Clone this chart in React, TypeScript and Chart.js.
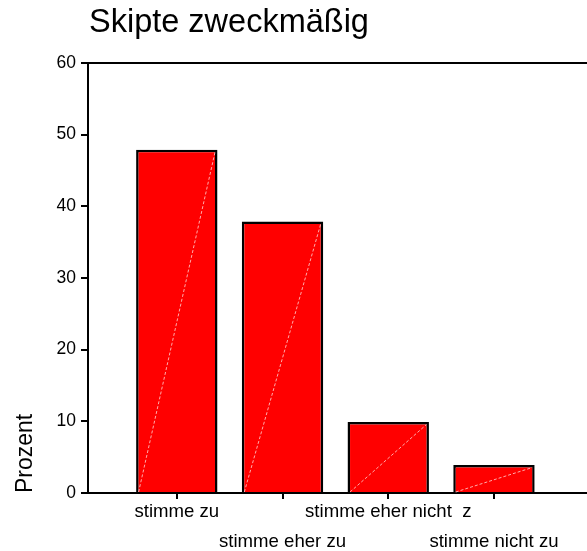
import React, { useEffect, useRef } from "react";
import { Chart, registerables } from "chart.js";

Chart.register(...registerables);

const chartTitle = "Skipte zweckmäßig";
const categories = ["stimme zu", "stimme eher zu", "stimme eher nicht  z", "stimme nicht zu"];
const percentValues = [47.9, 37.9, 9.9, 3.9];
const yTickValues = [0, 10, 20, 30, 40, 50, 60];
const yAxisTitle = "Prozent";

const FONT = "'Liberation Sans', Arial, sans-serif";

export default function App() {
  const ref = useRef<HTMLCanvasElement | null>(null);

  useEffect(() => {
    if (!ref.current) return;
    document.body.style.margin = "0";

    const framePlugin = {
      id: "frame",
      afterDatasetsDraw(chart: any) {
        const ctx = chart.ctx;
        const a = chart.chartArea;
        const meta = chart.getDatasetMeta(0);
        ctx.save();
        ctx.strokeStyle = "rgba(255,190,190,0.9)";
        ctx.lineWidth = 1;
        ctx.setLineDash([3, 2]);
        meta.data.forEach((bar: any) => {
          const p = bar.getProps(["x", "y", "base", "width"], true);
          const l = p.x - p.width / 2 + 2.5;
          const r = p.x + p.width / 2 - 2.5;
          ctx.beginPath();
          ctx.moveTo(l, p.base);
          ctx.lineTo(r, p.y + 2.5);
          ctx.stroke();
        });
        ctx.restore();
        ctx.save();
        ctx.strokeStyle = "#000";
        ctx.lineWidth = 2;
        ctx.beginPath();
        ctx.moveTo(a.left - 1, a.top);
        ctx.lineTo(a.right, a.top);
        ctx.stroke();
        ctx.fillStyle = "#000";
        ctx.font = `32.5px ${FONT}`;
        ctx.textAlign = "left";
        ctx.textBaseline = "alphabetic";
        ctx.fillText(chartTitle, a.left + 1, 32);
        ctx.restore();
      },
    };

    const chart = new Chart(ref.current, {
      type: "bar",
      data: {
        datasets: [
          {
            data: percentValues.map((v, i) => ({ x: i, y: v })),
            backgroundColor: "#ff0000",
            borderColor: "#000000",
            borderWidth: 2.5,
            borderSkipped: "start",
            barPercentage: 0.77,
            categoryPercentage: 1,
          },
        ],
      },
      plugins: [framePlugin],
      options: {
        animation: false,
        responsive: false,
        maintainAspectRatio: false,
        layout: { padding: { top: 63, left: 0, right: 0, bottom: 0 } },
        plugins: {
          legend: { display: false },
          tooltip: { enabled: false },
          title: { display: false },
        },
        scales: {
          x: {
            type: "linear",
            offset: false,
            min: -0.84,
            max: 3.88,
            grid: {
              offset: false,
              drawOnChartArea: false,
              drawTicks: true,
              tickLength: 6,
              color: "#000",
              lineWidth: 2,
            },
            border: { display: true, color: "#000", width: 2 },
            afterBuildTicks: (scale: any) => {
              scale.ticks = categories.map((_, i) => ({ value: i }));
            },
            afterFit: (scale: any) => {
              scale.height = 58;
            },
            ticks: {
              autoSkip: false,
              maxRotation: 0,
              minRotation: 0,
              padding: -2,
              color: "#000",
              font: { family: FONT, size: 18.6, lineHeight: 30 / 18.6 },
              callback: (v: any) => {
                const i = Math.round(Number(v));
                const label = categories[i] ?? "";
                return i % 2 === 1 ? ["", label] : label;
              },
            },
          },
          y: {
            min: 0,
            max: 60,
            afterBuildTicks: (scale: any) => {
              scale.ticks = yTickValues.map((v) => ({ value: v }));
            },
            afterFit: (scale: any) => {
              scale.width = 88;
            },
            grid: {
              drawOnChartArea: false,
              drawTicks: true,
              tickLength: 7,
              color: "#000",
              lineWidth: 2,
            },
            border: { display: true, color: "#000", width: 2 },
            ticks: {
              padding: 5,
              color: "#000",
              font: { family: FONT, size: 17.5 },
            },
            title: {
              display: true,
              text: yAxisTitle,
              align: "start",
              color: "#000",
              font: { family: FONT, size: 23 },
              padding: { top: 12, bottom: 0 },
            },
          },
        },
      },
    } as any);

    return () => chart.destroy();
  }, []);

  return (
    <div style={{ position: "absolute", left: 0, top: 0, width: 587, height: 551, background: "#fff" }}>
      <canvas ref={ref} width={587} height={551} style={{ width: 587, height: 551 }} />
    </div>
  );
}
